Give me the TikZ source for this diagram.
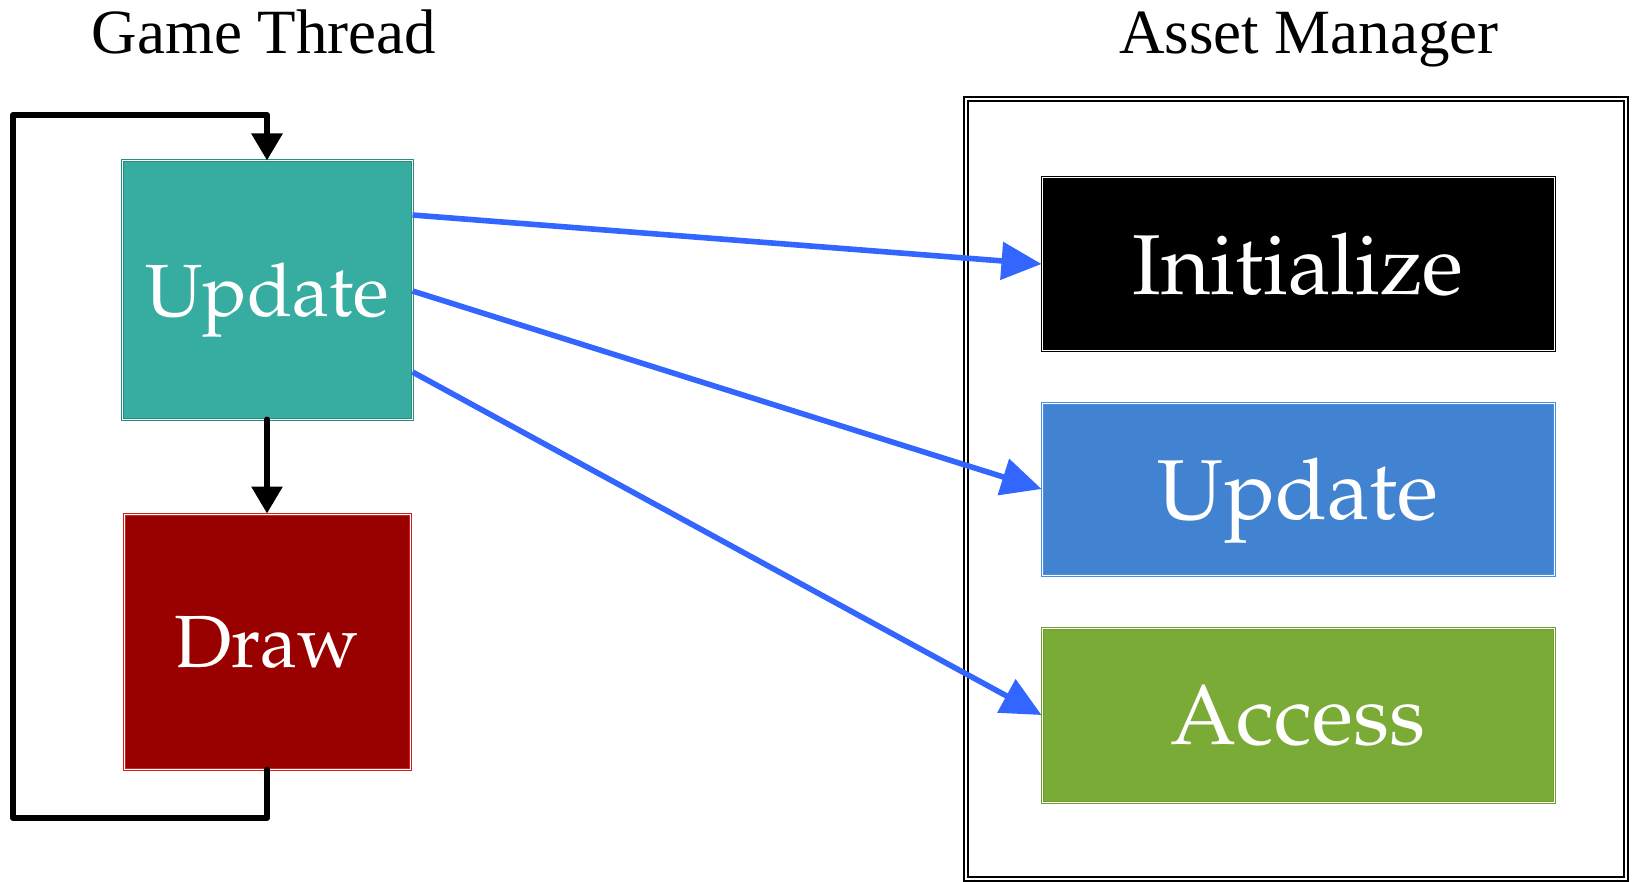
\documentclass[tikz,border=0pt]{standalone}
\usepackage[T1]{fontenc}
\usepackage{fontspec}
\setmainfont{Liberation Serif}
\usetikzlibrary{arrows.meta}
\newcommand\boxfont{\fontencoding{T1}\fontfamily{ppl}\selectfont}
\definecolor{tealfill}{HTML}{37ACA0}
\definecolor{tealline}{HTML}{2A8C80}
\definecolor{drawfill}{HTML}{990000}
\definecolor{drawline}{HTML}{CC2222}
\definecolor{bluefill}{HTML}{4183D0}
\definecolor{blueline}{HTML}{4A90E2}
\definecolor{greenfill}{HTML}{7AAB36}
\definecolor{greenline}{HTML}{6E9E30}
\definecolor{arrblue}{HTML}{3366FF}
\tikzset{
  boxstyle/.style={rectangle, line width=0.5pt, double=white, double distance=0.5pt, text=white, inner sep=0pt, text depth=0pt},
  leftbox/.style={boxstyle, minimum width=145pt, minimum height=129pt, font=\boxfont\fontsize{37pt}{40pt}\selectfont},
  rightbox/.style={boxstyle, minimum width=256pt, minimum height=86pt, font=\boxfont\fontsize{42.5pt}{46pt}\selectfont},
  title/.style={anchor=base, font=\fontsize{31.5pt}{34pt}\selectfont},
  loopline/.style={line width=3pt, line join=round, line cap=round},
  blackarrow/.style={loopline, -{Triangle[width=15pt,length=13.5pt]}},
  bluearrow/.style={line width=2.8pt, arrblue, -{Triangle[width=18.5pt,length=20pt]}}
}
\begin{document}
\begin{tikzpicture}[x=0.5pt, y=-0.5pt]
\useasboundingbox (0,0) rectangle (1632,882);
% titles
\node[title] (t1) at (264,54) {Game Thread};
\node[title] (t2) at (1309,54) {Asset Manager};
% asset manager frame
\draw[line width=0.75pt, double=white, double distance=1.25pt] (966,99) rectangle (1626,879);
% left boxes
\node[leftbox, fill=tealfill, draw=tealline] (tu) at (267,290) {Update};
\node[leftbox, fill=drawfill, draw=drawline, minimum width=143pt, minimum height=127.5pt] (dr) at (267,641.5) {Draw};
% right boxes
\node[rightbox, fill=black, draw=black] (init) at (1298,264) {Initialize};
\node[rightbox, fill=bluefill, draw=blueline] (au) at (1298,489) {Update};
\node[rightbox, fill=greenfill, draw=greenline, minimum height=87pt] (acc) at (1298,715) {Access};
% loop
\coordinate (c1) at (267,818);
\coordinate (c2) at (13,818);
\coordinate (c3) at (13,115);
\coordinate (c4) at (267,115);
\draw[blackarrow] (dr.south) -- (c1) -- (c2) -- (c3) -- (c4) -- (tu.north);
\draw[blackarrow] (tu.south) -- (dr.north);
% blue arrows
\draw[bluearrow] ([yshift=37.5pt]tu.east) -- (init.west);
\draw[bluearrow] ([yshift=-0.5pt]tu.east) -- (au.west);
\draw[bluearrow] ([yshift=-41pt]tu.east) -- (acc.west);
\end{tikzpicture}
\end{document}
